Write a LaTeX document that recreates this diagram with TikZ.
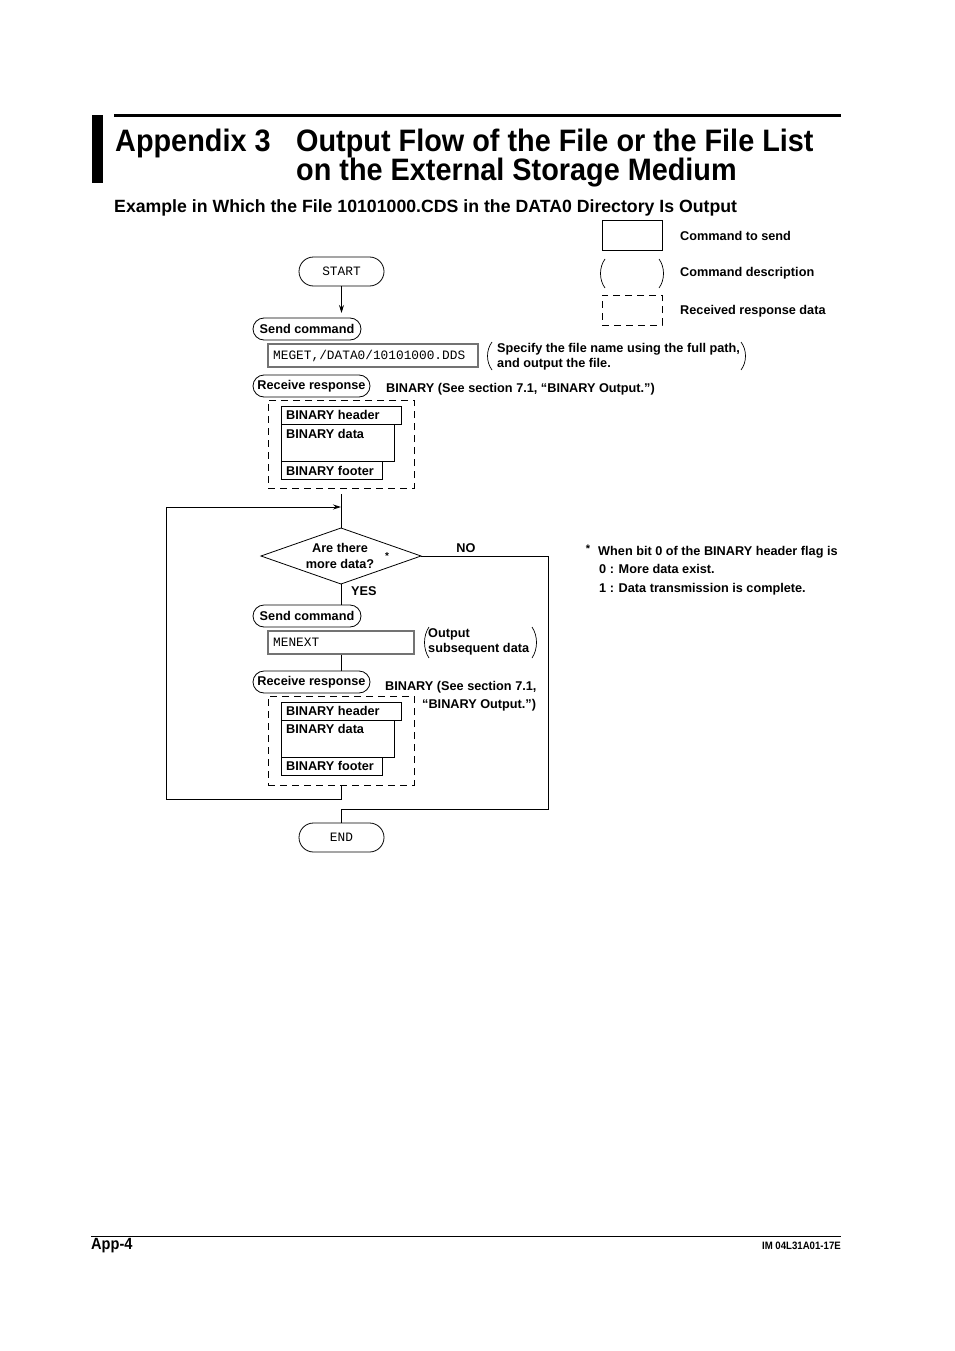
\documentclass[tikz,border=0pt]{standalone}
\usepackage{fontspec}
\setmainfont{Liberation Sans}
\newfontfamily\titlefont[FakeStretch=0.93]{Liberation Sans}
\newfontfamily\subfont[FakeStretch=0.9]{Liberation Sans}
\newfontfamily\monofont{Liberation Mono}
\usetikzlibrary{arrows.meta}
\newcommand{\bodyf}{\bfseries\fontsize{12.7}{15}\selectfont}
\tikzset{
  txt/.style={font=\bodyf, inner sep=0pt, text height=9pt, text depth=0pt},
  mltxt/.style={font=\bodyf, inner sep=0pt, align=left},
  stadium/.style={draw, line width=0.8pt, inner sep=0pt, font=\bodyf},
  cmdbox/.style={draw=black!55, line width=1.4pt, inner sep=0pt},
  respbox/.style={draw, dashed, dash pattern=on 7pt off 5pt, line width=0.8pt, inner sep=0pt},
  binbox/.style={draw, line width=0.8pt, inner sep=0pt},
  flow/.style={line width=0.8pt},
  paren/.style={line width=0.7pt},
  monot/.style={font=\monofont\fontsize{12.8}{14}\selectfont, inner sep=0pt, text height=8pt, text depth=0pt}
}
\begin{document}
\begin{tikzpicture}[x=1pt,y=-1pt]
\useasboundingbox[fill=white] (0,0) rectangle (954,1351);
% header
\fill (114,114) rectangle (841,117);
\fill (92,115) rectangle (103,183);
\node[anchor=base west, inner sep=0pt, font=\titlefont\bfseries\fontsize{31}{31}\selectfont] (t1) at (115,152) {Appendix 3};
\node[anchor=base west, inner sep=0pt, font=\titlefont\bfseries\fontsize{31}{31}\selectfont] (t2) at (296,152) {Output Flow of the File or the File List};
\node[anchor=base west, inner sep=0pt, font=\titlefont\bfseries\fontsize{31}{31}\selectfont] (t3) at (296,181) {on the External Storage Medium};
\node[anchor=base west, inner sep=0pt, font=\bfseries\fontsize{17.7}{18}\selectfont] (sub) at (114,212) {Example in Which the File 10101000.CDS in the DATA0 Directory Is Output};
% legend
\node[binbox, minimum width=60pt, minimum height=30pt] (lgcmd) at (632,235) {};
\node[txt, anchor=west] (lgcmdt) at (680,236) {Command to send};
\draw[paren] (605,259) .. controls (599,267) and (599,280) .. (605,288);
\draw[paren] (659,259) .. controls (665,267) and (665,280) .. (659,288);
\node[txt, anchor=west] (lgdesct) at (680,272) {Command description};
\node[respbox, minimum width=60pt, minimum height=30pt] (lgresp) at (632,310) {};
\node[txt, anchor=west] (lgrespt) at (680,310) {Received response data};
% flow part 1
\node[stadium, minimum width=85pt, minimum height=29pt, rounded corners=14.5pt] (start) at (341.5,271.5) {};
\node[monot] (startt) at (341.5,271.5) {START};
\coordinate (a1) at (341.5,313);
\draw[flow, -{Stealth[length=8pt,width=5pt]}] (start.south) -- (a1);
\node[stadium, minimum width=108pt, minimum height=22pt, rounded corners=11pt] (send1) at (307,329) {Send command};
\node[cmdbox, minimum width=210pt, minimum height=23pt] (cmd1) at (373,355.5) {};
\node[monot, anchor=west] (cmd1t) at (273,355.5) {MEGET,/DATA0/10101000.DDS};
\draw[paren] (492,342) .. controls (486,350) and (486,362) .. (492,370);
\draw[paren] (741,342) .. controls (747,350) and (747,362) .. (741,370);
\node[mltxt, anchor=north west] (desc1) at (497,343.5) {Specify the file name using the full path,\\[-0.5pt]and output the file.};
\node[stadium, minimum width=117pt, minimum height=22pt, rounded corners=11pt] (recv1) at (311.5,386) {Receive response};
\node[txt, anchor=west] (bin1) at (386,388) {BINARY (See section 7.1, “BINARY Output.”)};
\node[respbox, minimum width=146pt, minimum height=88pt] (resp1) at (341,444) {};
\node[binbox, minimum width=113pt, minimum height=37pt] (data1) at (337.5,442.5) {};
\node[binbox, fill=white, minimum width=120pt, minimum height=18pt] (head1) at (341,415) {};
\node[binbox, fill=white, minimum width=101pt, minimum height=18pt] (foot1) at (331.5,470) {};
\node[txt, anchor=west] (head1t) at (286,414.5) {BINARY header};
\node[txt, anchor=west] (data1t) at (286,433.5) {BINARY data};
\node[txt, anchor=west] (foot1t) at (286,470.5) {BINARY footer};
% decision
\coordinate (d0) at (341,494);
\path (261,556) coordinate (dl) (341,528) coordinate (dt) (421,556) coordinate (dr) (341,584) coordinate (db);
\draw[flow] (dl) -- (dt) -- (dr) -- (db) -- cycle;
\node[mltxt, align=center, anchor=center] (q) at (340,555.5) {Are there\\[1pt]more data?};
\node[font=\bfseries\fontsize{10}{10}\selectfont, inner sep=0pt] (star) at (387,556) {*};
\draw[flow] (d0) -- (dt);
\node[txt] (no) at (466,548) {NO};
\node[txt, anchor=west] (yes) at (351,591) {YES};
% loop back
\coordinate (lp1) at (341,785);
\coordinate (lp2) at (341,799);
\coordinate (lp3) at (166,799);
\coordinate (lp4) at (166,507);
\coordinate (lp5) at (341,507);
\draw[flow, -{Stealth[length=8pt,width=5pt]}] (lp1) -- (lp2) -- (lp3) -- (lp4) -- (lp5);
% part 2
\node[stadium, minimum width=108pt, minimum height=22pt, rounded corners=11pt] (send2) at (307,616) {Send command};
\draw[flow] (db) -- (341,605);
\node[cmdbox, minimum width=146pt, minimum height=23pt] (cmd2) at (341,642.5) {};
\node[monot, anchor=west] (cmd2t) at (273,642.5) {MENEXT};
\draw[paren] (429,627) .. controls (423,636) and (423,649) .. (429,658);
\draw[paren] (532,627) .. controls (538,636) and (538,649) .. (532,658);
\node[mltxt, anchor=north west] (desc2) at (428,628.5) {Output\\[-0.5pt]subsequent data};
\draw[flow] (cmd2.south) -- (341,671);
\node[stadium, minimum width=117pt, minimum height=22pt, rounded corners=11pt] (recv2) at (311.5,682) {Receive response};
\node[txt, anchor=west] (bin2a) at (385,686) {BINARY (See section 7.1,};
\node[txt, anchor=west] (bin2b) at (422,704) {“BINARY Output.”)};
\node[respbox, minimum width=146pt, minimum height=89pt] (resp2) at (341,740.5) {};
\node[binbox, minimum width=113pt, minimum height=37pt] (data2) at (337.5,738.5) {};
\node[binbox, fill=white, minimum width=120pt, minimum height=18pt] (head2) at (341,711) {};
\node[binbox, fill=white, minimum width=101pt, minimum height=18pt] (foot2) at (331.5,766) {};
\node[txt, anchor=west] (head2t) at (286,710.5) {BINARY header};
\node[txt, anchor=west] (data2t) at (286,728.5) {BINARY data};
\node[txt, anchor=west] (foot2t) at (286,765.5) {BINARY footer};
% NO path to END
\node[stadium, minimum width=85pt, minimum height=29pt, rounded corners=14.5pt] (end) at (341.5,837.5) {};
\node[monot] (endt) at (341.5,837.5) {END};
\coordinate (n1) at (548,556);
\coordinate (n2) at (548,809);
\coordinate (n3) at (341.5,809);
\draw[flow] (dr) -- (n1) -- (n2) -- (n3) -- (end.north);
% footnote
\node[font=\bfseries\fontsize{11}{11}\selectfont, inner sep=0pt] (fstar) at (588,549) {*};
\node[txt, anchor=west] (fn1) at (598,550.5) {When bit 0 of the BINARY header flag is};
\node[txt, anchor=west] (fn2) at (599,568.5) {0 : More data exist.};
\node[txt, anchor=west] (fn3) at (599,587.5) {1 : Data transmission is complete.};
% page footer
\draw[line width=0.7pt] (91,1236) -- (841,1236);
\node[anchor=base west, inner sep=0pt, font=\subfont\bfseries\fontsize{16.2}{16}\selectfont] (pg) at (91,1249.5) {App-4};
\node[anchor=base east, inner sep=0pt, font=\subfont\bfseries\fontsize{10.7}{11}\selectfont] (im) at (841,1249.5) {IM 04L31A01-17E};
\end{tikzpicture}
\end{document}
